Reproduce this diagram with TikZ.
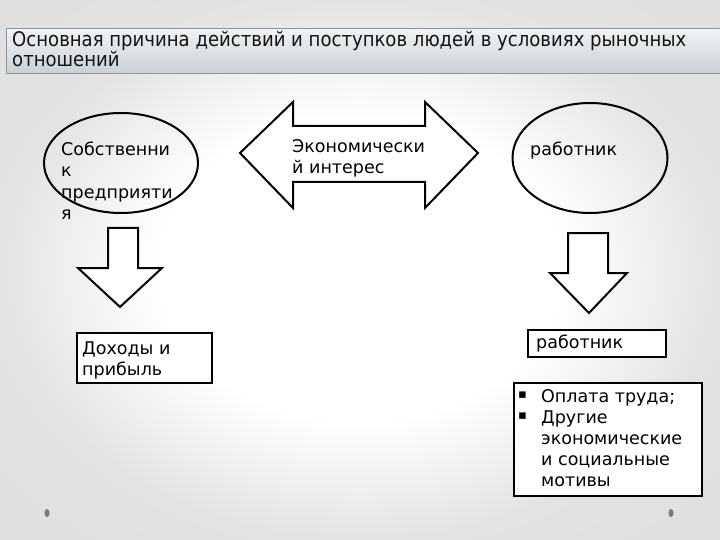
\documentclass[tikz,border=0pt]{standalone}
\usepackage{fontspec}
\usetikzlibrary{shapes.geometric}
\setmainfont{DejaVu Sans}
\newfontfamily\condfont{DejaVu Sans Condensed}
\definecolor{titletop}{HTML}{F1F3F4}
\definecolor{titlebot}{HTML}{C9D1D5}
\definecolor{titleborder}{HTML}{8C959B}
\definecolor{dotgray}{HTML}{7A7A7A}
\pgfdeclareradialshading{bgshade}{\pgfpoint{0bp}{0bp}}{color(0bp)=(white); color(14bp)=(white); color(25bp)=(black!11); color(50bp)=(black!15)}
\begin{document}
\begin{tikzpicture}[x=1pt,y=-1pt,
  ell/.style={draw=black,line width=2pt,ellipse,inner sep=0pt},
  txt/.style={inner sep=0pt,align=left,anchor=north west,font=\fontsize{17.5}{21.5}\selectfont},
  blockarrow/.style={draw=black,line width=2pt,fill=white,line join=miter},
  framebox/.style={draw=black,line width=2pt,fill=white,anchor=north west,inner sep=0pt},
  dot/.style={fill=dotgray,draw=none}]
\useasboundingbox (0,0) rectangle (720,540);
\shade[shading=bgshade] (0,0) rectangle (720,540);
% title
\node (title) [draw=titleborder,line width=1pt,top color=titletop,bottom color=titlebot,
  anchor=north west,minimum width=730pt,minimum height=45pt,inner sep=0pt] at (6,28) {};
\node (titlet) [inner sep=0pt,align=left,anchor=north west,text=black!92,
  font=\condfont\fontsize{20.1}{18}\selectfont] at (12,31)
  {Основная причина действий и поступков людей в условиях рыночных\\отношений};
% left ellipse
\node (own) [ell,minimum width=154pt,minimum height=100pt] at (121,163) {};
\node (ownt) [txt] at (61,141.7) {Собственни\\к\\предприяти\\я};
% double arrow
\draw[blockarrow] (240,153) -- (293,102) -- (293,126) -- (425,126) -- (425,102) -- (478,153)
  -- (425,208) -- (425,182) -- (293,182) -- (293,208) -- cycle;
\node (inter) [txt] at (292,139) {Экономически\\й интерес};
% right ellipse
\node (work) [ell,minimum width=155pt,minimum height=110pt] at (590,158) {};
\node (workt) [txt] at (530,141.7) {работник};
% left down arrow
\draw[blockarrow] (108,228) -- (138,228) -- (138,268) -- (162,268) -- (120,307) -- (78,268) -- (108,268) -- cycle;
% right down arrow
\draw[blockarrow] (568,233) -- (608,233) -- (608,273) -- (627,273) -- (589,313) -- (550,273) -- (568,273) -- cycle;
% boxes
\node (inc) [framebox,minimum width=135pt,minimum height=50pt] at (76,332) {};
\node (inct) [txt,font=\fontsize{17.5}{20.5}\selectfont] at (82,342) {Доходы и\\прибыль};
\node (wbox) [framebox,minimum width=138pt,minimum height=27pt] at (527,329) {};
\node (wboxt) [txt] at (536,334.7) {работник};
\node (mot) [framebox,minimum width=188pt,minimum height=113pt] at (513,382) {};
\node (b1) [txt,font=\fontsize{13}{21}\selectfont] at (518,392) {▪};
\node (b2) [txt,font=\fontsize{13}{21}\selectfont] at (518,413) {▪};
\node (mott) [txt,font=\fontsize{17.5}{21}\selectfont] at (541,389) {Оплата труда;\\Другие\\экономические\\и социальные\\мотивы};
% decorative dots
\fill[dot] (47,513) ellipse (2.5pt and 4pt);
\fill[dot] (671,513) ellipse (2.5pt and 4pt);
\end{tikzpicture}
\end{document}
